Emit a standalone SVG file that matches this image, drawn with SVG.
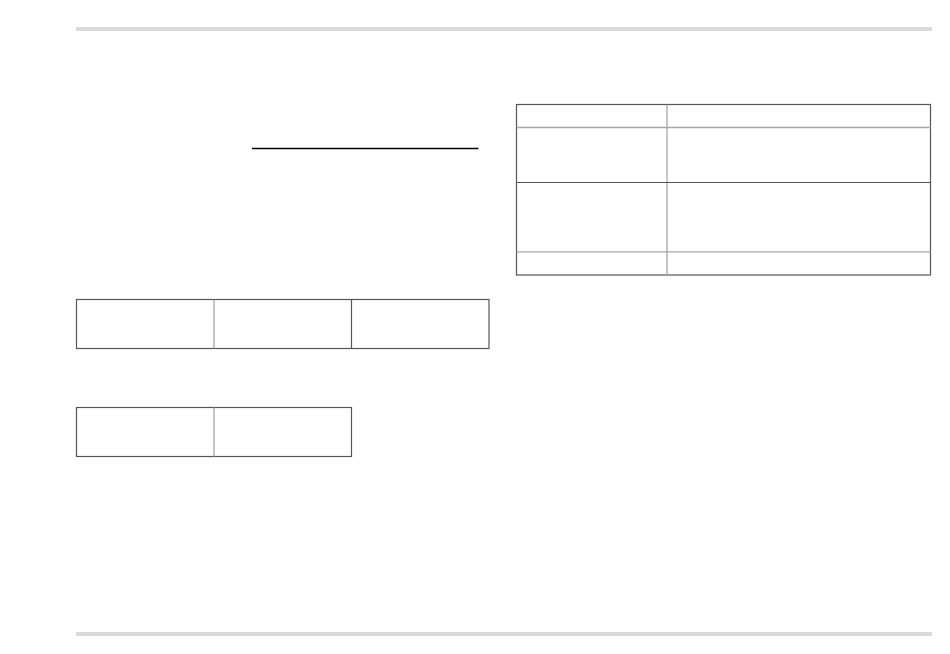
<svg xmlns="http://www.w3.org/2000/svg" width="950" height="654" viewBox="0 0 950 654">
<style>
.bar{fill:#d9d9d9}
.outer{fill:none;stroke:#555;stroke-width:1.2}
.dark{stroke:#555;stroke-width:1.2}
.light{stroke:#a6a6a6;stroke-width:1.3}
</style>
<rect width="950" height="654" fill="#fff"/>
<rect class="bar" x="76" y="27" width="856" height="4"/>
<rect class="bar" x="76" y="632" width="856" height="4"/>
<line x1="252" y1="148.5" x2="478.5" y2="148.5" stroke="#000" stroke-width="1.4"/>
<g id="table1">
<rect class="outer" x="76.5" y="299.5" width="412.5" height="49"/>
<line class="light" x1="214" y1="299.5" x2="214" y2="348.5"/>
<line class="dark" x1="351.5" y1="299.5" x2="351.5" y2="348.5"/>
</g>
<g id="table2">
<rect class="outer" x="76.5" y="407.5" width="275" height="49"/>
<line class="light" x1="214" y1="407.5" x2="214" y2="456.5"/>
</g>
<g id="table3">
<rect class="outer" x="516.5" y="104.5" width="414" height="170.5"/>
<line class="light" x1="667" y1="104.5" x2="667" y2="275"/>
<line class="light" x1="516.5" y1="127.5" x2="930.5" y2="127.5"/>
<line class="dark" x1="516.5" y1="182.5" x2="930.5" y2="182.5"/>
<line class="light" x1="516.5" y1="251.8" x2="930.5" y2="251.8"/>
</g>
<g id="connectors"></g>
</svg>
